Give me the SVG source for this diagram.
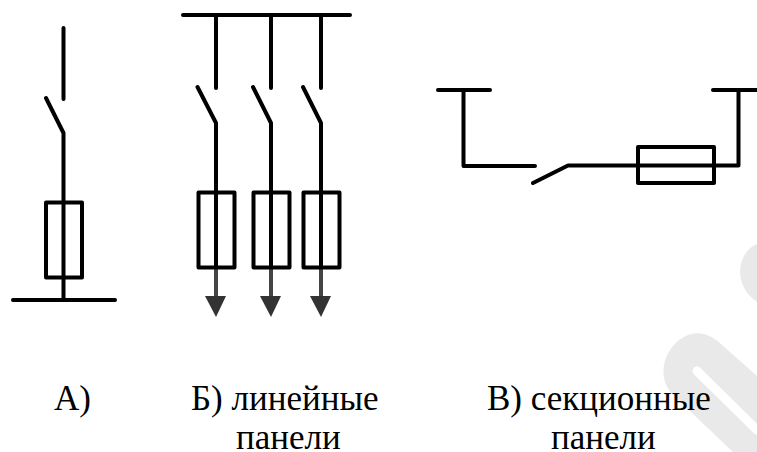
<svg xmlns="http://www.w3.org/2000/svg" width="757" height="452" viewBox="0 0 757 452">
<style>
.w{fill:#e9e9e9;stroke:none}
.l{fill:none;stroke:#000;stroke-width:4;stroke-linecap:round;stroke-linejoin:round}
.g{fill:none;stroke:#444;stroke-width:4}
.t{fill:#000;font-family:"Liberation Serif","Times New Roman",serif;font-size:35px}
</style>
<g id="watermark">
<path class="w" d="M757 244C737 252 732 285 757 302Z"/>
<path class="w" d="M733 452L672 394C656 376 664 348 684 337C698 329 712 335 722 345L757 376V452Z"/>
<path d="M697 371L757 430" stroke="#fff" stroke-width="9" stroke-linecap="round" fill="none"/>
</g>
<g id="connectors">
<path class="l" d="M63.500 28V99M46 98L63.500 133V300"/>
<path class="l" d="M216 15V88M197.500 87L216 123V268"/>
<path class="l" d="M271 15V88M253 87L271 123V268"/>
<path class="l" d="M321 15V88M303 87L321 123V268"/>
<path class="g" d="M216 268V300M271 268V300M321 268V300"/>
<path class="l" d="M463.500 90V166H535M533 183L568 165.500H738.500V90"/>
</g>
<g id="node-bus-a"><path class="l" d="M13 300H115"/></g>
<g id="node-fuse-a"><rect class="l" x="46" y="202.500" width="36" height="75"/></g>
<g id="node-bus-b"><path class="l" d="M183 15H350"/></g>
<g id="node-fuse-b1"><rect class="l" x="198.500" y="192.500" width="36" height="75"/></g>
<g id="node-fuse-b2"><rect class="l" x="253.500" y="192.500" width="36" height="75"/></g>
<g id="node-fuse-b3"><rect class="l" x="303.500" y="192.500" width="36" height="75"/></g>
<g id="node-arrow-b1"><path fill="#333" d="M205 296H226L216 317Z"/></g>
<g id="node-arrow-b2"><path fill="#333" d="M260 296H281L271 317Z"/></g>
<g id="node-arrow-b3"><path fill="#333" d="M310 296H331L321 317Z"/></g>
<g id="node-bus-c1"><path class="l" d="M438 90H490"/></g>
<g id="node-bus-c2"><path class="l" d="M713 90H757"/></g>
<g id="node-fuse-c"><rect class="l" x="638" y="147" width="76" height="36"/></g>
<g id="labels">
<text class="t" x="54" y="410">А)</text>
<text class="t" x="191" y="410">Б) линейные</text>
<text class="t" x="236" y="449">панели</text>
<text class="t" x="487" y="410">В) секционные</text>
<text class="t" x="551" y="449">панели</text>
</g>
</svg>
